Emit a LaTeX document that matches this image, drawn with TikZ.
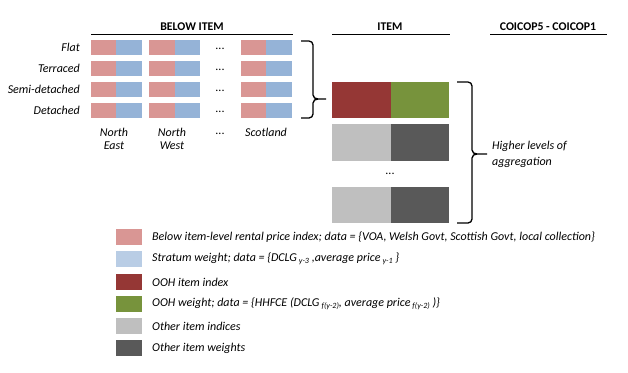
\documentclass[tikz,border=0pt]{standalone}
\usepackage{fontspec}
\setmainfont{Carlito}
\definecolor{cpink}{HTML}{D99694}
\definecolor{cblue}{HTML}{95B3D7}
\definecolor{clblue}{HTML}{B9CDE5}
\definecolor{cred}{HTML}{953735}
\definecolor{cgreen}{HTML}{77933C}
\definecolor{clgray}{HTML}{BFBFBF}
\definecolor{cdgray}{HTML}{595959}
\newcommand{\lsub}[1]{\,{\fontsize{8}{8}\selectfont\raisebox{-0.6ex}{#1}}}
\begin{document}
\begin{tikzpicture}[x=1pt,y=-1pt,
  every node/.style={font=\fontsize{12}{13}\selectfont\itshape, inner sep=0pt},
  hdr/.style={font=\fontsize{11.8}{13}\selectfont\bfseries},
  cell/.style={anchor=north west, minimum width=#1, minimum height=15pt},
  swatch/.style={anchor=north west, minimum width=26pt, minimum height=16pt},
  leg/.style={anchor=west},
  brk/.style={line width=1.3pt}]
\useasboundingbox (0,0) rectangle (628,372);
% headers
\node[hdr] (h1) at (192,27) {BELOW ITEM};
\node[hdr] (h2) at (390,27) {ITEM};
\node[hdr] (h3) at (548,27) {COICOP5 - COICOP1};
\draw[line width=0.9pt] (91,34) -- (293,34);
\draw[line width=0.9pt] (332,34) -- (450,34);
\draw[line width=0.9pt] (490,34) -- (607,34);
% row labels
\foreach \lab [count=\i] in {Flat,Terraced,Semi-detached,Detached}{
  \pgfmathsetmacro{\yy}{40+21*(\i-1)}
  \node[anchor=east] (r\i) at (80,\yy+7.5) {\lab};
  \node[cell=25pt, fill=cpink] (a\i p) at (91,\yy) {};
  \node[cell=26pt, fill=cblue] (a\i b) at (116,\yy) {};
  \node[cell=26pt, fill=cpink] (b\i p) at (149,\yy) {};
  \node[cell=25pt, fill=cblue] (b\i b) at (175,\yy) {};
  \node (d\i) at (220,\yy+9) {\textup{...}};
  \node[cell=25pt, fill=cpink] (c\i p) at (241,\yy) {};
  \node[cell=26pt, fill=cblue] (c\i b) at (266,\yy) {};
}
% column labels
\node[align=center] (cl1) at (114,139) {North\\East};
\node[align=center] (cl2) at (172,139) {North\\West};
\node (cl3) at (220,134) {\textup{...}};
\node (cl4) at (266,132) {Scotland};
% bracket 1
\draw[brk] (301,41) -- (309,41) to[out=0,in=90] (313,45) -- (313,95)
  to[out=-90,in=180] (318,99) -- (326,99);
\draw[brk] (318,99) to[out=180,in=90] (313,103) -- (313,114)
  to[out=-90,in=0] (309,118) -- (301,118);
% item boxes
\node[cell=59pt, minimum height=36pt, fill=cred] (ir) at (332,82) {};
\node[cell=58pt, minimum height=36pt, fill=cgreen] (ig) at (391,82) {};
\node[cell=59pt, minimum height=37pt, fill=clgray] (g1) at (332,124) {};
\node[cell=58pt, minimum height=37pt, fill=cdgray] (k1) at (391,124) {};
\node (idots) at (390,174) {\textup{...}};
\node[cell=59pt, minimum height=36pt, fill=clgray] (g2) at (332,187) {};
\node[cell=58pt, minimum height=36pt, fill=cdgray] (k2) at (391,187) {};
% bracket 2
\draw[brk] (457,82) -- (468,82) to[out=0,in=90] (472,86) -- (472,150)
  to[out=-90,in=180] (477,154) -- (487,154);
\draw[brk] (477,154) to[out=180,in=90] (472,158) -- (472,219)
  to[out=-90,in=0] (468,223) -- (457,223);
\node[anchor=west, align=left] (hl) at (492,154) {Higher levels of\\[3pt]aggregation};
% legend
\node[swatch, fill=cpink] (s1) at (116,229) {};
\node[swatch, fill=clblue] (s2) at (116,251) {};
\node[swatch, fill=cred] (s3) at (116,274) {};
\node[swatch, fill=cgreen] (s4) at (116,296) {};
\node[swatch, fill=clgray] (s5) at (116,318) {};
\node[swatch, fill=cdgray] (s6) at (116,340) {};
\node[leg] (t1) at (152,237) {Below item-level rental price index; data = \{VOA, Welsh Govt, Scottish Govt, local collection\}};
\node[leg] (t2) at (152,259) {Stratum weight; data = \{DCLG\lsub{y-3} ,average price\lsub{y-1} \}};
\node[leg] (t3) at (152,282) {OOH item index};
\node[leg] (t4) at (152,304) {OOH weight; data = \{HHFCE (DCLG\lsub{f(y-2)}, average price\lsub{f(y-2)} )\}};
\node[leg] (t5) at (152,326) {Other item indices};
\node[leg] (t6) at (152,348) {Other item weights};
\end{tikzpicture}
\end{document}
